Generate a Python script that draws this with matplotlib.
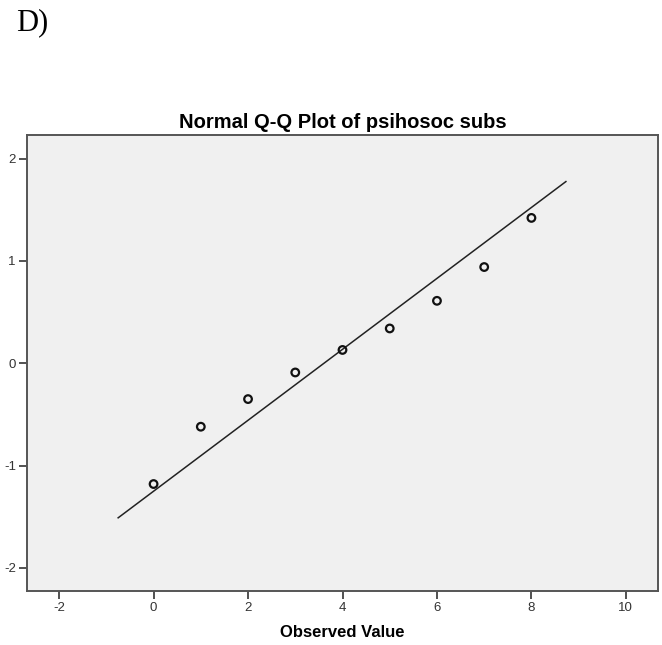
import matplotlib
matplotlib.use("Agg")
import matplotlib.pyplot as plt

observed = [0, 1, 2, 3, 4, 5, 6, 7, 8]
expected = [-1.18, -0.62, -0.35, -0.09, 0.13, 0.34, 0.61, 0.94, 1.42]

# reference line end points
line_x = [-0.75, 8.73]
line_y = [-1.51, 1.775]

x_ticks = [-2, 0, 2, 4, 6, 8, 10]
y_ticks = [-2, -1, 0, 1, 2]

plt.rcParams["font.family"] = ["Liberation Sans", "DejaVu Sans"]
plt.rcParams["axes.unicode_minus"] = False

fig = plt.figure(figsize=(6.62, 6.45), dpi=100)
ax = fig.add_axes([27 / 662, 54 / 645, 631 / 662, 456 / 645])
ax.set_facecolor("#f0f0f0")

ax.plot(line_x, line_y, color="#222222", linewidth=1.1)
ax.scatter(observed, expected, s=30, facecolors="none", edgecolors="#111111",
           linewidths=1.6, zorder=3)

ax.set_xlim(-2.68, 10.68)
ax.set_ylim(-2.225, 2.23)
ax.set_xticks(x_ticks)
ax.set_yticks(y_ticks)
ax.tick_params(direction="out", length=6, width=1.2, color="#333333",
               labelsize=9.5, labelcolor="#333333", pad=2)

for side in ax.spines.values():
    side.set_color("#555555")
    side.set_linewidth(1.4)

ax.set_title("Normal Q-Q Plot of psihosoc subs", fontsize=14.5, fontweight="bold", pad=5)
ax.set_xlabel("Observed Value", fontsize=12, fontweight="bold", labelpad=8)

fig.text(16 / 662, 1 - 30 / 645, "D)", family="Liberation Serif", fontsize=22)

fig.savefig("out.png", dpi=100)
